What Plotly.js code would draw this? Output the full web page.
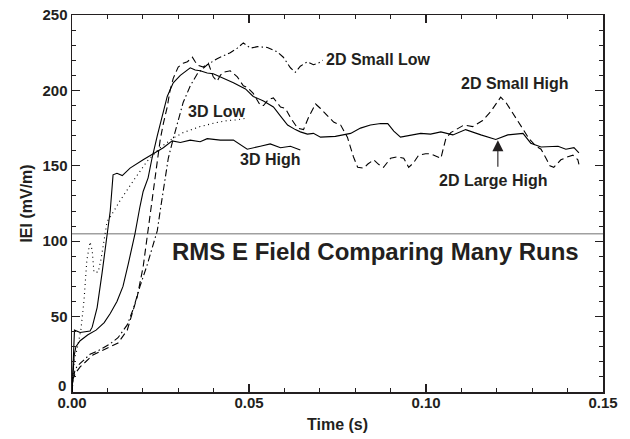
<!DOCTYPE html>
<html>
<head>
<meta charset="utf-8">
<script src="https://cdn.plot.ly/plotly-3.0.1.min.js"></script>
<style>html,body{margin:0;padding:0;background:#fff;}#chart{width:630px;height:439px;}</style>
</head>
<body>
<div id="chart"></div>
<script>
// ---- data (time in s, |E| in mV/m) ----
const t3DHigh = [0, 0.0007, 0.0023, 0.0051, 0.0057, 0.0071, 0.0085, 0.0099, 0.0108, 0.0116, 0.0127, 0.0142, 0.0164, 0.0201, 0.0235, 0.0258, 0.0283, 0.0306, 0.0334, 0.0362, 0.0382, 0.0419, 0.0456, 0.0476, 0.0495, 0.0532, 0.0560, 0.0589, 0.0617, 0.0645];
const e3DHigh = [0, 41, 39.5, 40.5, 43, 56, 79, 104, 120, 144, 145, 143.5, 148.5, 154, 158.5, 162, 166.5, 165.5, 167, 166, 168, 167, 167, 164, 161, 163, 164.5, 162, 163, 160.5];

const t3DLow = [0, 0.0006, 0.0014, 0.0025, 0.0034, 0.0042, 0.0051, 0.0057, 0.0062, 0.0074, 0.0082, 0.0091, 0.0099, 0.0108, 0.0136, 0.0173, 0.0212, 0.0249, 0.0283, 0.0314, 0.0362, 0.0405, 0.0439, 0.0467, 0.0490];
const e3DLow = [0, 21, 28, 41, 61, 87.5, 99.5, 94, 79.5, 79.5, 88, 101, 113, 116, 127, 140, 153, 162, 168, 172, 176, 178.5, 180, 180.5, 181.5];

const t2DLargeHigh = [0, 0.0003, 0.0006, 0.0011, 0.0023, 0.0045, 0.0068, 0.0091, 0.0108, 0.0127, 0.0144, 0.0159, 0.0170, 0.0178, 0.0192, 0.0201, 0.0215, 0.0226, 0.0241, 0.0258, 0.0269, 0.0286, 0.0306, 0.0334, 0.0348, 0.0362, 0.0382, 0.0399, 0.0419, 0.0456, 0.0490, 0.0512, 0.0541, 0.0569, 0.0589, 0.0609, 0.0631, 0.0645, 0.0665, 0.0682, 0.0702, 0.0744, 0.0787, 0.0815, 0.0843, 0.0872, 0.0892, 0.0909, 0.0928, 0.0957, 0.0985, 0.1013, 0.1042, 0.1076, 0.1112, 0.1155, 0.1197, 0.1231, 0.1274, 0.1296, 0.1325, 0.1373, 0.1395, 0.1418, 0.1432];
const e2DLargeHigh = [0, 14, 24, 30, 34, 38, 41, 46, 52, 60, 70, 85, 97, 105, 123, 133, 142, 155, 170, 187, 196, 205, 210, 215, 213.5, 213, 211.5, 211, 209, 205, 201, 196, 193, 189, 183, 177, 174, 172.5, 171, 171.5, 169, 169.5, 171.5, 175, 177, 178, 178, 173, 169, 170.5, 171.5, 171, 172.5, 170.5, 174, 170.5, 167.5, 170.5, 171.5, 165, 162.5, 163, 161, 162, 158.5];

const t2DSmallHigh = [0, 0.0003, 0.0011, 0.0023, 0.0059, 0.0099, 0.0130, 0.0156, 0.0170, 0.0184, 0.0201, 0.0212, 0.0221, 0.0229, 0.0241, 0.0249, 0.0258, 0.0269, 0.0277, 0.0286, 0.0300, 0.0314, 0.0326, 0.0340, 0.0348, 0.0357, 0.0371, 0.0385, 0.0399, 0.0410, 0.0419, 0.0427, 0.0447, 0.0467, 0.0484, 0.0495, 0.0512, 0.0532, 0.0541, 0.0555, 0.0569, 0.0589, 0.0603, 0.0617, 0.0637, 0.0654, 0.0668, 0.0688, 0.0702, 0.0710, 0.0739, 0.0759, 0.0778, 0.0787, 0.0795, 0.0807, 0.0824, 0.0835, 0.0852, 0.0866, 0.0880, 0.0900, 0.0920, 0.0937, 0.0951, 0.0965, 0.0979, 0.0999, 0.1013, 0.1042, 0.1056, 0.1070, 0.1090, 0.1107, 0.1132, 0.1160, 0.1183, 0.1211, 0.1226, 0.1245, 0.1268, 0.1291, 0.1311, 0.1325, 0.1339, 0.1350, 0.1361, 0.1381, 0.1401, 0.1415, 0.1429, 0.1432];
const e2DSmallHigh = [0, 9, 13, 16.6, 24.5, 29, 32.5, 41, 52, 63, 83, 102, 118, 134, 152, 167, 178, 189, 200, 208, 215.5, 218, 219, 222, 219, 216.5, 215.5, 218, 209, 206, 210, 212, 213, 209, 203, 202, 198, 190, 190, 194, 195, 189, 188, 182, 175, 174, 182, 191, 188, 186, 179, 177, 169, 162, 156, 149, 148.5, 151, 154, 151, 149, 155, 156, 155, 149, 152, 157, 158, 158, 155, 168, 172, 175, 177, 176, 180, 186, 195.5, 192, 185, 176, 168, 163, 161, 155, 150, 149, 154, 156, 157, 154, 151];

const t2DSmallLow = [0, 0.0003, 0.0008, 0.0014, 0.0023, 0.0051, 0.0079, 0.0108, 0.0130, 0.0156, 0.0173, 0.0192, 0.0212, 0.0229, 0.0241, 0.0249, 0.0258, 0.0272, 0.0286, 0.0300, 0.0314, 0.0334, 0.0354, 0.0382, 0.0410, 0.0447, 0.0467, 0.0484, 0.0504, 0.0524, 0.0552, 0.0580, 0.0597, 0.0617, 0.0631, 0.0645, 0.0665, 0.0682, 0.0696, 0.0708];
const e2DSmallLow = [0, 8, 14, 17, 19, 25, 28, 32, 36, 44.5, 55, 70, 84, 97, 107, 120, 135, 155, 168, 180, 192, 203, 211, 217, 221, 225, 228, 231.5, 228, 229, 228.5, 225.5, 222, 215, 212, 216, 219, 217, 218, 220];

const refLevel = 105;
const xTickVals = [0, 0.05, 0.10, 0.15];
const xTickText = ['0.00', '0.05', '0.10', '0.15'];
const yTickVals = [0, 50, 100, 150, 200, 250];
const yTickText = ['', '50', '100', '150', '200', '250'];
const yZeroLabel = '0';

// label positions (data coords) and texts
const labelTexts = ['3D Low', '3D High', '2D Small Low', '2D Small High', '2D Large High', 'RMS E Field Comparing Many Runs'];
const labelX = [0.0408, 0.0560, 0.0867, 0.1251, 0.1190, 0.0858];
const labelY = [186, 154, 220.5, 204.5, 140.5, 93.5];
const labelSize = [16, 16, 16, 16, 16, 24];
const arrowTip = {x: 0.1203, y: 167};

// ---- drawing ----
const FONT = 'Liberation Sans, Arial, Helvetica, sans-serif';
const INK = '#231f20';
const LW = 1.1;
function tr(x, y, dash) {
  return {x: x, y: y, type: 'scatter', mode: 'lines', hoverinfo: 'skip',
          line: {color: '#000', width: LW, dash: dash}};
}
const traces = [
  tr(t3DHigh, e3DHigh, 'solid'),
  tr(t3DLow, e3DLow, '1px,3.5px'),
  tr(t2DLargeHigh, e2DLargeHigh, 'solid'),
  tr(t2DSmallHigh, e2DSmallHigh, '7px,4px'),
  tr(t2DSmallLow, e2DSmallLow, '7px,3px,1.5px,3px')
];

const annotations = labelTexts.map((s, i) => ({
  x: labelX[i], y: labelY[i], xref: 'x', yref: 'y', text: s, showarrow: false,
  xanchor: 'center', yanchor: 'middle',
  font: {family: FONT, size: labelSize[i], color: INK, weight: 'bold'}
}));
annotations.push({
  x: arrowTip.x, y: arrowTip.y, xref: 'x', yref: 'y', text: '', showarrow: true,
  ax: 0, ay: 28, arrowhead: 2, arrowsize: 2, arrowwidth: 1.1, arrowcolor: INK
});
annotations.push({
  x: 0, y: 0, xref: 'paper', yref: 'y', text: yZeroLabel, showarrow: false,
  xanchor: 'right', yanchor: 'middle', xshift: -4, yshift: 7,
  font: {family: FONT, size: 15, color: INK, weight: 'bold'}
});

const axisCommon = {
  showline: true, linecolor: INK, linewidth: 1.5, mirror: 'ticks',
  ticks: 'inside', ticklen: 8, tickwidth: 1.2, tickcolor: INK,
  showgrid: false, zeroline: false,
  tickfont: {family: FONT, size: 15, color: INK, weight: 'bold'}
};

const layout = {
  width: 630, height: 439,
  margin: {l: 72, r: 27, t: 15, b: 47, pad: 0},
  paper_bgcolor: '#fff', plot_bgcolor: '#fff',
  showlegend: false,
  xaxis: Object.assign({}, axisCommon, {
    range: [0, 0.15], tickvals: xTickVals, ticktext: xTickText,
    ticklabelstandoff: -4,
    minor: {dtick: 0.01, tick0: 0, ticks: 'inside', ticklen: 4, tickwidth: 1, tickcolor: INK, showgrid: false},
    title: {text: 'Time (s)', standoff: 9, font: {family: FONT, size: 16, color: INK, weight: 'bold'}}
  }),
  yaxis: Object.assign({}, axisCommon, {
    range: [0, 250], tickvals: yTickVals, ticktext: yTickText,
    minor: {dtick: 10, tick0: 0, ticks: 'inside', ticklen: 4, tickwidth: 1, tickcolor: INK, showgrid: false},
    title: {text: 'IEI (mV/m)', standoff: 6, font: {family: FONT, size: 16, color: INK, weight: 'bold'}}
  }),
  shapes: [{type: 'line', xref: 'paper', yref: 'y', x0: 0, x1: 1, y0: refLevel, y1: refLevel,
            line: {color: '#a0a0a0', width: 1.5}, layer: 'below'}],
  annotations: annotations
};

Plotly.newPlot('chart', traces, layout, {staticPlot: true, displayModeBar: false});
</script>
</body>
</html>
